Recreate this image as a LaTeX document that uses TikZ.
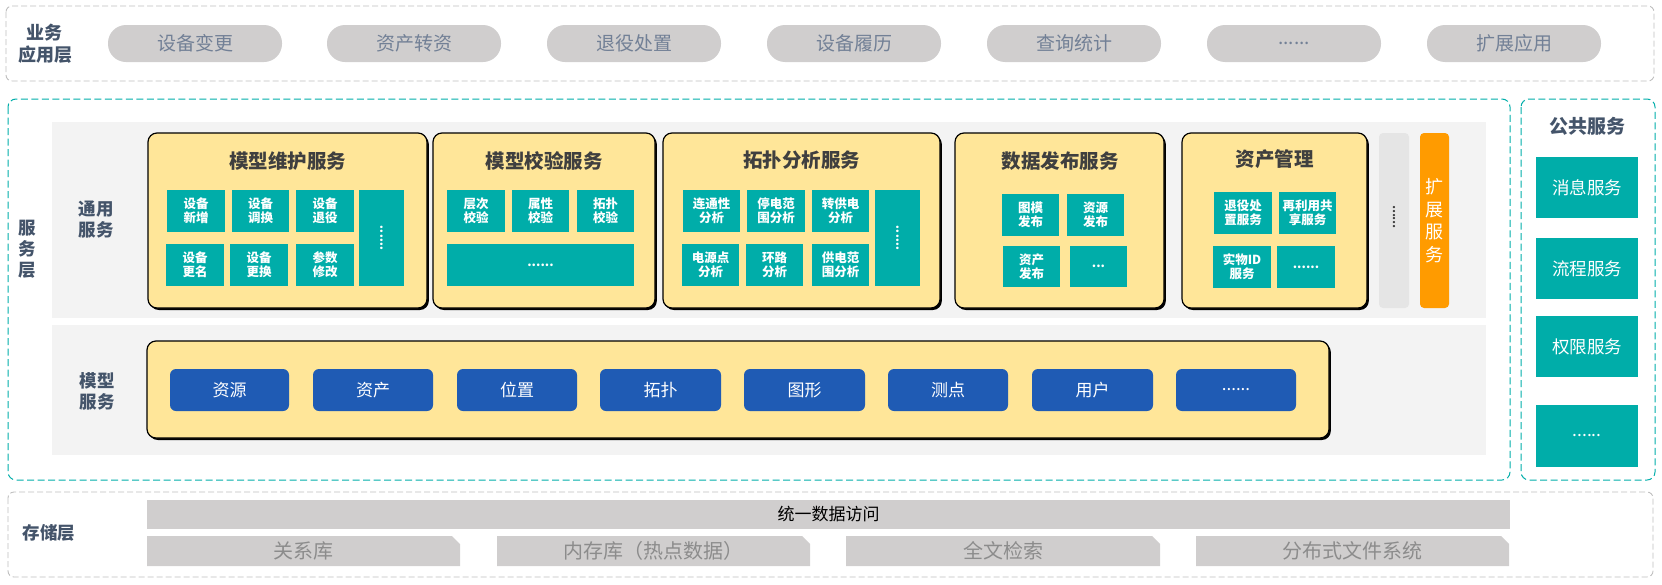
\documentclass[tikz,border=0pt]{standalone}
\usepackage{fontspec}
\setmainfont{Noto Sans CJK SC}
\usetikzlibrary{shapes.misc,shadows}
\definecolor{cTeal}{HTML}{00ADA9}
\definecolor{cYellow}{HTML}{FFE699}
\definecolor{cBlue}{HTML}{1F5BB4}
\definecolor{cPill}{HTML}{D0CECE}
\definecolor{cPillText}{HTML}{728096}
\definecolor{cLabel}{HTML}{44546A}
\definecolor{cBg}{HTML}{F3F3F3}
\definecolor{cDots}{HTML}{E5E5E5}
\definecolor{cOrange}{HTML}{FF9B00}
\definecolor{cStoreText}{HTML}{8C8C8C}
\definecolor{cDashGray}{HTML}{BFBFBF}
\definecolor{cTitle}{HTML}{3F3F3F}
\newcommand\fs[2]{\fontsize{#1pt}{#2pt}\selectfont}
\newcommand\mkbox[7]{%
  \pgfmathsetmacro\bxcx{(#3+#5)/2}\pgfmathsetmacro\bxcy{(#4+#6)/2}%
  \pgfmathsetmacro\bxw{#5-#3}\pgfmathsetmacro\bxh{#6-#4}%
  \node[#2, minimum width=\bxw pt, minimum height=\bxh pt] (#1) at (\bxcx,\bxcy) {#7};}
\begin{document}
\begin{tikzpicture}[x=1pt,y=-1pt,
  graydash/.style={draw=cDashGray, dash pattern=on 6pt off 3pt, line width=0.9pt, rounded corners=6pt},
  tealdash/.style={draw=cTeal, dash pattern=on 7pt off 3.5pt, line width=1pt, rounded corners=8pt},
  lbl/.style={text=cLabel, font=\bfseries\fs{17.5}{21}, align=center, inner sep=0pt},
  pill/.style={fill=cPill, rounded corners=18pt, minimum width=174pt, minimum height=37pt, text=cPillText, font=\fs{19}{21}, inner sep=0pt},
  ybox/.style={fill=cYellow, draw=black, line width=1.2pt, rounded corners=9pt, inner sep=0pt,
     drop shadow={shadow xshift=1.8pt, shadow yshift=-2pt, opacity=1, fill=black}},
  ytitle/.style={text=cTitle, font=\bfseries\fs{19.5}{21}, inner sep=0pt},
  tsmall/.style={fill=cTeal, text=white, font=\bfseries\fs{12.5}{14}, align=center, inner sep=0pt},
  bluebox/.style={fill=cBlue, rounded corners=6pt, text=white, font=\fs{17}{19}, inner sep=0pt},
  pubbox/.style={fill=cTeal, text=white, font=\fs{17.5}{20}, inner sep=0pt},
  storebar/.style={fill=cPill, chamfered rectangle, chamfered rectangle corners=north east, chamfered rectangle xsep=4pt, chamfered rectangle ysep=4pt, text=cStoreText, font=\fs{20}{22}, inner sep=0pt},
]
\useasboundingbox (0,0) rectangle (1662,584);

% ---------- business application layer
\draw[graydash] (6,6) rectangle (1654,81);
\node[lbl, font=\bfseries\fs{18}{22}] (lTop) at (45,44) {业务\\应用层};
\node[pill] (p1) at (195,43.5) {设备变更};
\node[pill] (p2) at (414,43.5) {资产转资};
\node[pill] (p3) at (634,43.5) {退役处置};
\node[pill] (p4) at (854,43.5) {设备履历};
\node[pill] (p5) at (1074,43.5) {查询统计};
\node[pill] (p6) at (1294,43.5) {......};
\node[pill] (p7) at (1514,43.5) {扩展应用};

% ---------- service layer
\draw[tealdash] (8,99) rectangle (1510,480);
\draw[tealdash] (1521,99) rectangle (1655,480);
\node[lbl, font=\bfseries\fs{17.5}{21}] (lSvc) at (27,249) {服\\务\\层};
\fill[cBg] (52,122) rectangle (1486,318);
\fill[cBg] (52,325) rectangle (1486,455);
\node[lbl] (lCommon) at (96,220) {通用\\服务};
\node[lbl] (lModel) at (97,391) {模型\\服务};

% yellow boxes
\mkbox{y1}{ybox}{148}{133}{427}{308}{}
\mkbox{y2}{ybox}{433}{133}{655}{308}{}
\mkbox{y3}{ybox}{663}{133}{940}{308}{}
\mkbox{y4}{ybox}{955}{133}{1164}{308}{}
\mkbox{y5}{ybox}{1182}{133}{1367}{308}{}
\node[ytitle] (t1) at (287.5,161) {模型维护服务};
\node[ytitle] (t2) at (544,161) {模型校验服务};
\node[ytitle] (t3) at (801.5,160) {拓扑分析服务};
\node[ytitle] (t4) at (1060,161) {数据发布服务};
\node[ytitle] (t5) at (1274.5,159) {资产管理};

% box 1
\mkbox{a1}{tsmall}{167}{190}{225}{232}{设备\\新增}
\mkbox{a2}{tsmall}{232}{190}{289}{232}{设备\\调换}
\mkbox{a3}{tsmall}{296}{190}{354}{232}{设备\\退役}
\mkbox{a4}{tsmall}{166}{244}{224}{286}{设备\\更名}
\mkbox{a5}{tsmall}{230}{244}{288}{286}{设备\\更换}
\mkbox{a6}{tsmall}{296}{244}{354}{286}{参数\\修改}
\mkbox{a7}{tsmall}{359}{190}{404}{286}{}
\node[text=white, font=\bfseries\fs{12}{14}, rotate=90, inner sep=0pt] (a7d) at (a7.center) {......};

% box 2
\mkbox{b1}{tsmall}{447}{190}{505}{232}{层次\\校验}
\mkbox{b2}{tsmall}{512}{190}{569}{232}{属性\\校验}
\mkbox{b3}{tsmall}{577}{190}{634}{232}{拓扑\\校验}
\mkbox{b4}{tsmall}{447}{244}{634}{286}{......}

% box 3
\mkbox{c1}{tsmall}{683}{190}{740}{232}{连通性\\分析}
\mkbox{c2}{tsmall}{747}{190}{805}{232}{停电范\\围分析}
\mkbox{c3}{tsmall}{812}{190}{869}{232}{转供电\\分析}
\mkbox{c4}{tsmall}{682}{244}{739}{286}{电源点\\分析}
\mkbox{c5}{tsmall}{746}{244}{803}{286}{环路\\分析}
\mkbox{c6}{tsmall}{812}{244}{869}{286}{供电范\\围分析}
\mkbox{c7}{tsmall}{875}{190}{920}{286}{}
\node[text=white, font=\bfseries\fs{12}{14}, rotate=90, inner sep=0pt] (c7d) at (c7.center) {......};

% box 4
\mkbox{d1}{tsmall}{1002}{194}{1059}{236}{图模\\发布}
\mkbox{d2}{tsmall}{1067}{194}{1124}{236}{资源\\发布}
\mkbox{d3}{tsmall}{1003}{246}{1060}{287}{资产\\发布}
\mkbox{d4}{tsmall}{1070}{246}{1127}{287}{...}

% box 5
\mkbox{e1}{tsmall}{1214}{192}{1272}{234}{退役处\\置服务}
\mkbox{e2}{tsmall}{1279}{192}{1336}{234}{再利用共\\享服务}
\mkbox{e3}{tsmall}{1213}{246}{1271}{288}{实物ID\\服务}
\mkbox{e4}{tsmall}{1277}{246}{1335}{288}{......}

% dots column and extension
\mkbox{g1}{fill=cDots, rounded corners=4pt, inner sep=0pt}{1379}{133}{1409}{308}{}
\node[text=cTitle, font=\bfseries\fs{11}{13}, rotate=90, inner sep=0pt] (g1d) at (1394,217) {......};
\mkbox{ext}{fill=cOrange, rounded corners=4pt, inner sep=0pt, text=white, font=\fs{18}{22.7}, align=center}{1420}{133}{1449}{308}{扩\\展\\服\\务}

% model service
\mkbox{ym}{ybox}{147}{341}{1329}{438}{}
\mkbox{m1}{bluebox}{170}{369}{289}{411}{资源}
\mkbox{m2}{bluebox}{313}{369}{433}{411}{资产}
\mkbox{m3}{bluebox}{457}{369}{577}{411}{位置}
\mkbox{m4}{bluebox}{600}{369}{721}{411}{拓扑}
\mkbox{m5}{bluebox}{744}{369}{865}{411}{图形}
\mkbox{m6}{bluebox}{888}{369}{1008}{411}{测点}
\mkbox{m7}{bluebox}{1032}{369}{1153}{411}{用户}
\mkbox{m8}{bluebox}{1176}{369}{1296}{411}{......}

% public services
\node[lbl, font=\bfseries\fs{19}{21}] (lPub) at (1587,126) {公共服务};
\mkbox{q1}{pubbox}{1536}{157}{1638}{218}{消息服务}
\mkbox{q2}{pubbox}{1536}{238}{1638}{299}{流程服务}
\mkbox{q3}{pubbox}{1536}{316}{1638}{377}{权限服务}
\mkbox{q4}{pubbox}{1536}{405}{1638}{467}{......}

% ---------- storage layer
\draw[graydash] (8,492) rectangle (1653,577);
\node[lbl] (lStore) at (49,533) {存储层};
\mkbox{s0}{fill=cPill, inner sep=0pt, text=black, font=\fs{17}{19}}{147}{500}{1510}{529}{统一数据访问}
\mkbox{s1}{storebar}{147}{536}{460}{566}{关系库}
\mkbox{s2}{storebar}{497}{536}{810}{566}{内存库（热点数据）}
\mkbox{s3}{storebar}{846}{536}{1160}{566}{全文检索}
\mkbox{s4}{storebar}{1196}{536}{1509}{566}{分布式文件系统}
\end{tikzpicture}
\end{document}
